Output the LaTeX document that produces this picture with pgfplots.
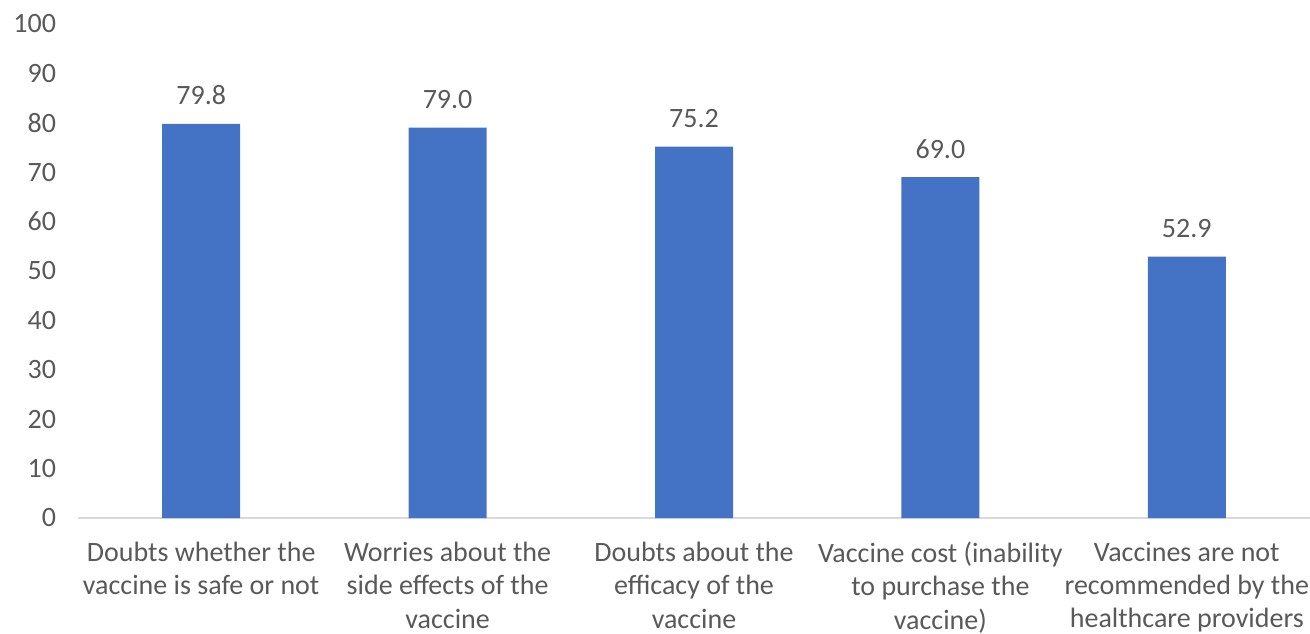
\documentclass[border=0pt]{standalone}
\usepackage{fontspec}
\setmainfont{Carlito}
\usepackage{pgfplots}
\pgfplotsset{compat=1.18}
\usetikzlibrary{calc}
\definecolor{barblue}{HTML}{4472C4}
\definecolor{txtgray}{HTML}{595959}
\definecolor{axgray}{HTML}{D9D9D9}
\begin{document}
\begin{tikzpicture}
\begin{axis}[
  scale only axis,
  width=924pt, height=370.5pt,
  xmin=-0.5, xmax=4.5, ymin=0, ymax=100,
  ytick={0,10,...,100},
  xtick={0,1,2,3,4},
  xticklabels={{Doubts whether the\\vaccine is safe or not},{Worries about the\\side effects of the\\vaccine},{Doubts about the\\efficacy of the\\vaccine},{Vaccine cost (inability\\to purchase the\\vaccine)},{Vaccines are not\\recommended by the\\healthcare providers}},
  axis y line*=left,
  axis x line*=bottom,
  x axis line style={draw=axgray, line width=1pt},
  y axis line style={draw=none},
  major tick length=0pt,
  tick style={draw=none},
  /pgf/number format/assume math mode=true,
  tick label style={font=\fontsize{21}{25}\selectfont, text=txtgray},
  yticklabel style={xshift=-13pt},
  xticklabel style={align=center, yshift=-14.5pt},
  ybar, bar width=58.5pt,
  nodes near coords,
  nodes near coords style={font=\fontsize{21}{25}\selectfont, text=txtgray, /pgf/number format/fixed, /pgf/number format/precision=1, /pgf/number format/fixed zerofill, /pgf/number format/assume math mode=true, yshift=10.5pt},
  clip=false,
]
\addplot[fill=barblue, draw=none] coordinates {(0,79.8) (1,79.0) (2,75.2) (3,69.0) (4,52.9)};
\end{axis}
\pgfresetboundingbox
\path[use as bounding box] ($(current axis.south west)+(-58.5pt,-86.25pt)$) rectangle ($(current axis.north east)+(0pt,18pt)$);
\end{tikzpicture}
\end{document}
